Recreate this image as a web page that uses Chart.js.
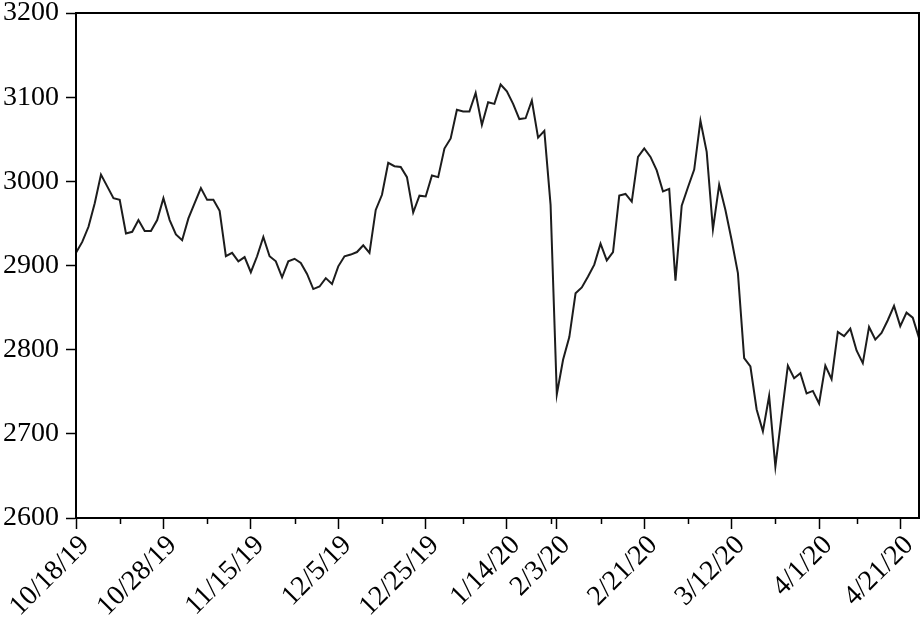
<!DOCTYPE html>
<html lang="en">
<head>
  <meta charset="UTF-8" />
  <title>Index level, 10/18/19 – 4/21/20</title>
  <script src="https://cdn.jsdelivr.net/npm/chart.js@4.4.0/dist/chart.umd.min.js"></script>
  <style>
    html,body{margin:0;background:#fff}
    .wrap{width:921px;height:620px;position:relative}
  </style>
</head>
<body>
<div class="wrap"><canvas id="c"></canvas></div>
<script>
const VALUES=[
  2915,2928,2946,2974,3008,2994,2980,2978,2938,2940,
  2954,2941,2941,2954,2980,2954,2937,2930,2956,2974,
  2992,2978,2978,2965,2911,2915,2905,2910,2892,2911,
  2934,2911,2905,2886,2905,2908,2903,2890,2872,2875,
  2885,2878,2899,2911,2913,2916,2924,2915,2966,2984,
  3022,3018,3017,3005,2963,2983,2982,3007,3005,3039,
  3051,3085,3083,3083,3105,3067,3094,3092,3115,3107,
  3092,3074,3075,3096,3052,3060,2972,2747,2788,2815,
  2867,2874,2887,2901,2926,2906,2916,2983,2985,2976,
  3029,3039,3029,3013,2988,2991,2882,2971,2993,3014,
  3072,3035,2943,2996,2966,2930,2891,2790,2780,2729,
  2703,2745,2661,2722,2781,2766,2772,2748,2751,2736,
  2781,2765,2821,2816,2825,2799,2784,2827,2812,2820,
  2835,2852,2828,2844,2838,2814
];
const DATE_LABELS=['10/18/19','10/28/19','11/15/19','12/5/19','12/25/19','1/14/20','2/3/20','2/21/20','3/12/20','4/1/20','4/21/20'];
const MAJOR_IDX=[0,14,28,42,56,69,77,91,105,119,132];
const MINOR_IDX=[7,21,35,49,62,76,84,98,112,125];
const Y_MIN=2600, Y_MAX=3200, Y_STEP=100;

const FONT={family:'"Liberation Serif","Times New Roman",serif',size:28};

/* frame round the plot + short minor ticks on the date axis */
const frame={
  id:'frame',
  afterDraw:c=>{
    const ctx=c.ctx,a=c.chartArea,x=c.scales.x;
    ctx.save();
    ctx.strokeStyle='#000';ctx.lineWidth=2;
    ctx.strokeRect(a.left,a.top,a.right-a.left,a.bottom-a.top);
    ctx.lineWidth=1.5;
    MINOR_IDX.forEach(v=>{
      const px=Math.round(x.getPixelForValue(v))+0.5;
      ctx.beginPath();ctx.moveTo(px,a.bottom);ctx.lineTo(px,a.bottom+6);ctx.stroke();
    });
    ctx.restore();
  }
};

new Chart(document.getElementById('c'),{
  type:'line',
  data:{datasets:[{
    data:VALUES.map((v,i)=>({x:i,y:v})),
    borderColor:'#1c1c1c',borderWidth:2,pointRadius:0,tension:0,fill:false
  }]},
  options:{
    responsive:true,maintainAspectRatio:false,animation:false,
    layout:{padding:{top:13,right:2,left:0,bottom:0}},
    plugins:{legend:{display:false},tooltip:{enabled:false}},
    scales:{
      x:{
        type:'linear',min:0,max:VALUES.length-1,
        afterBuildTicks:s=>{s.ticks=MAJOR_IDX.map(v=>({value:v}));},
        afterFit:s=>{s.height=102;s.paddingLeft=0;s.paddingRight=0;},
        ticks:{autoSkip:false,minRotation:45,maxRotation:45,padding:0,labelOffset:9,color:'#000',font:FONT,
          callback:v=>DATE_LABELS[MAJOR_IDX.indexOf(v)]},
        grid:{drawOnChartArea:false,tickLength:11,color:'#000',tickWidth:1.5},
        border:{display:true,color:'#000',width:2}
      },
      y:{
        min:Y_MIN,max:Y_MAX,
        afterFit:s=>{s.width=76;s.paddingTop=0;s.paddingBottom=0;},
        ticks:{stepSize:Y_STEP,padding:7,color:'#000',font:FONT,callback:v=>String(v)},
        grid:{drawOnChartArea:false,tickLength:10,color:'#000',tickWidth:1.5},
        border:{display:true,color:'#000',width:2}
      }
    }
  },
  plugins:[frame]
});
</script>
</body>
</html>
